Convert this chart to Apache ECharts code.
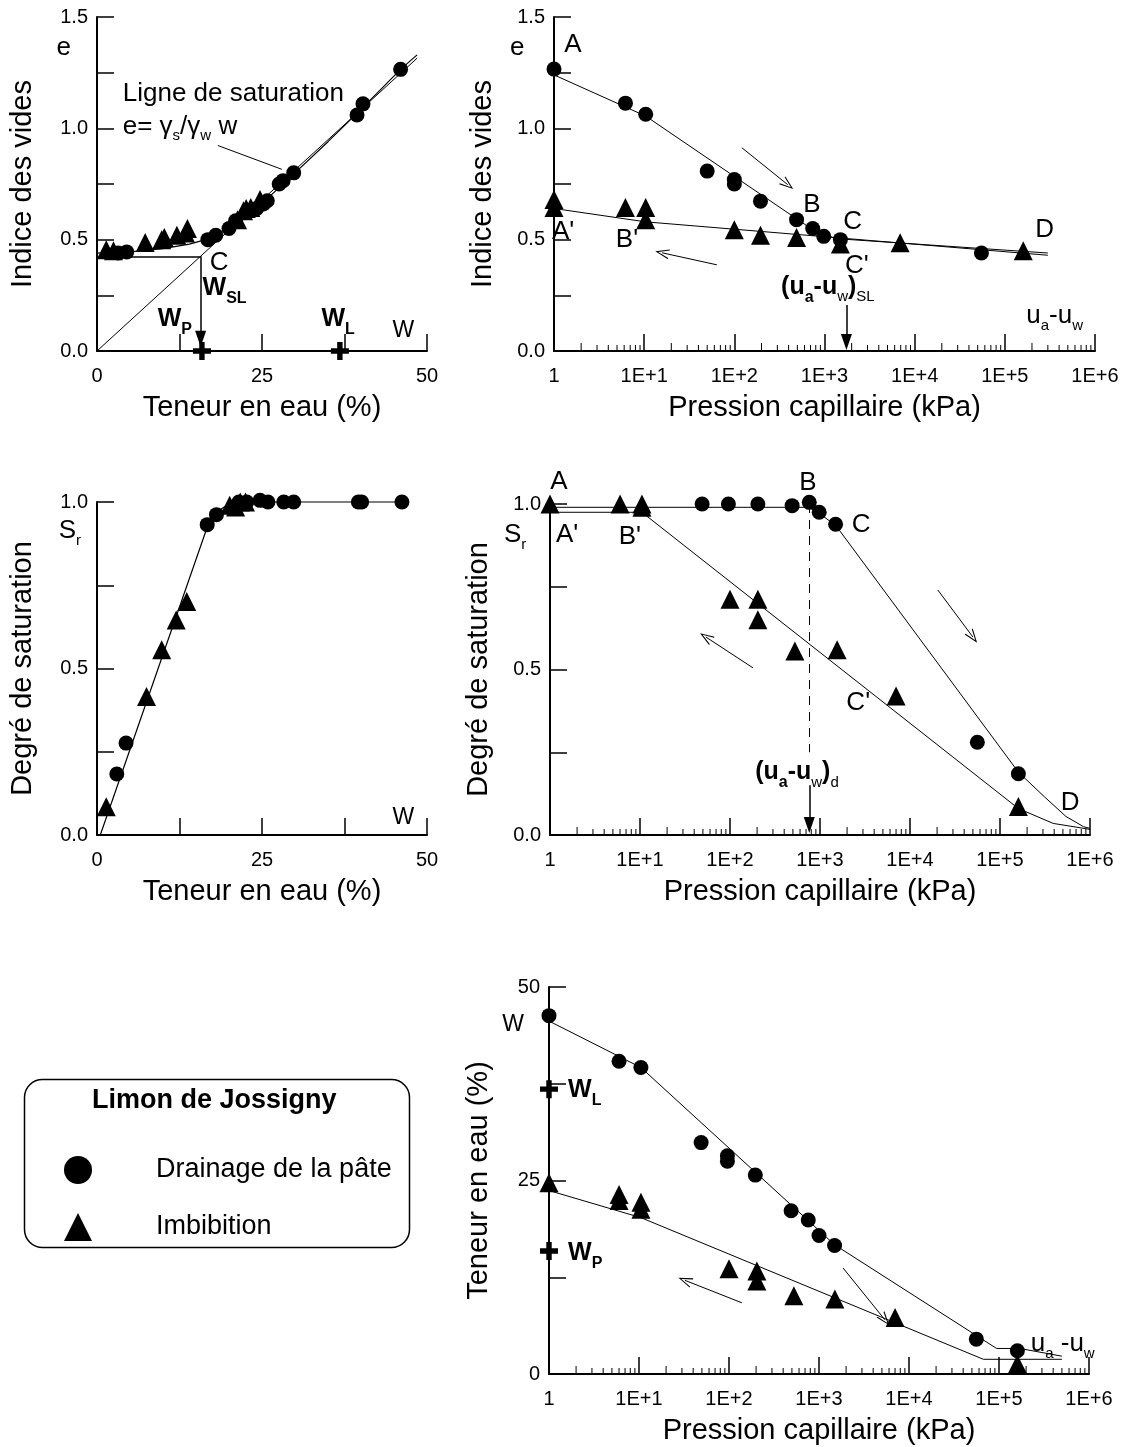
<!DOCTYPE html>
<html><head><meta charset="utf-8">
<script src="https://cdn.jsdelivr.net/npm/echarts@6/dist/echarts.min.js"></script>
<style>html,body{margin:0;padding:0;background:#fff}#c{width:1127px;height:1447px}</style>
</head><body><div id="c"></div>
<script>
// ================= DATA =================
// Tick labels
const logTickLabels = ['1','1E+1','1E+2','1E+3','1E+4','1E+5','1E+6'];
const wTickLabels = ['0','25','50'];
const eTickLabels = ['0.0','0.5','1.0','1.5'];
const srTickLabels = ['0.0','0.5','1.0'];
const legendNames = ['Drainage de la pâte','Imbibition'];

// Panel 1 : e vs w (%)
const p1DrainW = [46.0,40.3,39.4,29.8,28.2,27.6,25.8,25.2,24.2,21.0,20.0,18.0,16.8,4.5,3.2];
const p1DrainE = [1.265,1.11,1.06,0.80,0.765,0.75,0.675,0.66,0.64,0.585,0.55,0.52,0.50,0.445,0.44];
const p1ImbW = [1.4,2.5,7.3,9.8,10.2,12.1,13.4,13.7,21.3,22.2,22.6,23.3,24.7];
const p1ImbE = [0.455,0.45,0.487,0.50,0.51,0.52,0.53,0.55,0.59,0.63,0.64,0.645,0.68];
const p1SatW = [0,48.5];
const p1SatE = [0,1.315];
const p1CurveW = [0,5,10,14,17,20,23,26,30,35,40,46,48.5];
const p1CurveE = [0.44,0.445,0.46,0.48,0.505,0.55,0.615,0.69,0.80,0.94,1.085,1.265,1.33];
const wSL = 15.7, eSL = 0.425;
const wP = 15.9, wL = 36.8;

// Panel 2 : e vs suction (kPa)
const p2DrainS = [1,6.2,10.4,50,100,100,195,490,740,980,1500,55000];
const p2DrainE = [1.266,1.113,1.063,0.808,0.77,0.75,0.673,0.59,0.55,0.515,0.50,0.44];
const p2ImbS = [1,1,6.2,10.4,10.4,100,195,490,1500,6900,160000];
const p2ImbE = [0.68,0.644,0.644,0.644,0.59,0.545,0.52,0.51,0.48,0.486,0.45];
const p2DrainLineS = [1,10.4,650,1300,300000];
const p2DrainLineE = [1.24,1.055,0.56,0.505,0.44];
const p2ImbLineS = [1,10.4,300000];
const p2ImbLineE = [0.64,0.58,0.43];
const sSL = 1750;

// Panel 3 : Sr vs w (%)
const p3DrainW = [46.2,40.1,39.6,29.8,28.3,25.9,24.7,22.7,21.5,18.1,16.7,4.4,3.0];
const p3DrainSr = [1,1,1,1,1,1,1.005,1,1,0.962,0.932,0.276,0.183];
const p3ImbW = [1.4,7.5,9.8,12.0,13.6,20.1,21.0,21.7,22.5];
const p3ImbSr = [0.085,0.416,0.556,0.646,0.701,0.99,0.985,1.0,1.0];
const p3LineW = [0.5,16.8,18.5,20.5,46.2];
const p3LineSr = [0,0.93,0.975,1.0,1.0];

// Panel 4 : Sr vs suction (kPa)
const p4DrainS = [49,96,204,490,760,980,1490,56000,160000];
const p4DrainSr = [1.0,1.0,1.0,0.995,1.005,0.975,0.939,0.28,0.185];
const p4ImbS = [1,6,10.5,10.5,100,204,204,526,1550,7000,160000];
const p4ImbSr = [1.0,1.0,1.0,0.99,0.712,0.712,0.65,0.556,0.56,0.42,0.086];
const p4DrainLineS = [1,760,1000,1500,160000,310000,540000,850000,1000000];
const p4DrainLineSr = [0.99,0.99,0.97,0.935,0.19,0.116,0.056,0.025,0.02];
const p4ImbLineS = [1,10.5,160000,390000,1000000];
const p4ImbLineSr = [0.975,0.975,0.08,0.035,0.017];
const sD = 760;

// Panel 5 : w (%) vs suction (kPa)
const p5DrainS = [1,6,10.5,49,96,96,196,490,760,1000,1490,56000,160000];
const p5DrainW = [46.3,40.4,39.6,29.9,28.2,27.5,25.7,21.1,19.9,17.9,16.6,4.5,3.0];
const p5ImbS = [1,6,6,10.5,10.5,100,204,204,526,1500,7000,160000];
const p5ImbW = [24.7,23.2,22.4,22.2,21.3,13.6,13.3,12.0,10.1,9.7,7.3,1.3];
const p5DrainLineS = [1,10.5,1490,94000,170000,500000];
const p5DrainLineW = [45.6,39.6,16.7,3.3,3.3,2.3];
const p5ImbLineS = [1,10.5,67000,500000];
const p5ImbLineW = [23.7,20.2,1.9,1.9];

// ================= CHART =================
const FONT = "'Liberation Sans', Arial, sans-serif";
const zip = (a, b) => a.map((v, i) => [v, b[i]]);
const fmtLog = v => logTickLabels[Math.round(Math.log10(v))];
const fmtStep = (labels, step) => v => {
  const i = v / step;
  return Math.abs(i - Math.round(i)) < 1e-6 ? (labels[Math.round(i)] || '') : '';
};
const TICK_FS = 20, NAME_FS = 29;

const grids = [
  {left: 97, top: 17, width: 330, height: 334},
  {left: 554, top: 17, width: 541, height: 334},
  {left: 97, top: 502, width: 330, height: 333},
  {left: 550, top: 504, width: 540, height: 331},
  {left: 549, top: 987, width: 540, height: 387}
].map(g => Object.assign({containLabel: false, outerBoundsMode: 'none'}, g));

function axisBase(gi, extra) {
  return Object.assign({
    gridIndex: gi,
    axisLine: {show: true, onZero: false, lineStyle: {color: '#000', width: 2}},
    axisTick: {show: true, inside: true, length: 17, lineStyle: {color: '#000', width: 1.5}},
    splitLine: {show: false},
    minorTick: {show: false},
    nameLocation: 'middle',
    nameTextStyle: {color: '#000', fontSize: NAME_FS, fontFamily: FONT}
  }, extra);
}
function lbl(margin, formatter) {
  return {color: '#000', fontSize: TICK_FS, fontFamily: FONT, margin, formatter, showMinLabel: true, showMaxLabel: true};
}
function linX(gi, name) {
  return axisBase(gi, {type: 'value', min: 0, max: 50, interval: 12.5, name, nameGap: 42,
    axisLabel: lbl(15, fmtStep(wTickLabels, 25))});
}
function logX(gi, name) {
  return axisBase(gi, {type: 'log', logBase: 10, min: 1, max: 1e6, name, nameGap: 42,
    axisLabel: lbl(15, fmtLog)});
}
function yAx(gi, min, max, interval, labels, step, name, gap) {
  return axisBase(gi, {type: 'value', min, max, interval, name, nameGap: gap,
    axisLabel: lbl(9, fmtStep(labels, step))});
}

const xAxis = [
  linX(0, 'Teneur en eau (%)'),
  logX(1, 'Pression capillaire (kPa)'),
  linX(2, 'Teneur en eau (%)'),
  logX(3, 'Pression capillaire (kPa)'),
  logX(4, 'Pression capillaire (kPa)')
];
const yAxis = [
  yAx(0, 0, 1.5, 0.25, eTickLabels, 0.5, 'Indice des vides', 60),
  yAx(1, 0, 1.5, 0.25, eTickLabels, 0.5, 'Indice des vides', 57),
  yAx(2, 0, 1.0, 0.25, srTickLabels, 0.5, 'Degré de saturation', 60),
  yAx(3, 0, 1.0, 0.25, srTickLabels, 0.5, 'Degré de saturation', 57),
  yAx(4, 0, 50, 12.5, wTickLabels, 25, 'Teneur en eau (%)', 56)
];

const RICH = {
  n: {fontSize: 26, fontFamily: FONT, color: '#000', verticalAlign: 'top'},
  m: {fontSize: 23, fontFamily: FONT, color: '#000', verticalAlign: 'top'},
  s: {fontSize: 15, fontFamily: FONT, color: '#000', padding: [15, 0, 0, 0], verticalAlign: 'top'},
  b: {fontSize: 25, fontFamily: FONT, color: '#000', fontWeight: 'bold', verticalAlign: 'top'},
  bs: {fontSize: 16, fontFamily: FONT, color: '#000', fontWeight: 'bold', padding: [15, 0, 0, 0], verticalAlign: 'top'}
};

const OPEN = 'path://M0,14 L5,0 L10,14 L8.8,14 L5,3 L1.2,14 Z';
const FILL = 'path://M5,0 L10,16 L0,16 Z';
const PLUS = 'path://M3.5,0 H6.5 V3.5 H10 V6.5 H6.5 V10 H3.5 V6.5 H0 V3.5 H3.5 Z';

function seg(a, b, opt) {
  opt = opt || {};
  return [
    {coord: a, symbol: 'none'},
    {coord: b, symbol: opt.head || 'none', symbolSize: opt.size || [10, 14],
     lineStyle: {color: '#000', width: opt.w || 1, type: opt.dash ? [9, 7] : 'solid', opacity: 1}}
  ];
}

function annotations(gi, items, lines) {
  return {
    type: 'scatter', name: 'ann' + gi, xAxisIndex: gi, yAxisIndex: gi,
    symbolSize: 0, silent: true, clip: false, z: 6,
    itemStyle: {opacity: 1, color: '#000'},
    data: items.map(a => ({
      value: [a.x, a.y],
      label: {show: true, position: [0, 0], formatter: a.t, align: a.align || 'center',
        verticalAlign: 'middle', rich: RICH, color: '#000', opacity: 1}
    })),
    markLine: {
      silent: true, animation: false, symbol: ['none', 'none'],
      label: {show: false}, lineStyle: {color: '#000', width: 1, type: 'solid', opacity: 1},
      itemStyle: {color: '#000', opacity: 1},
      emphasis: {disabled: true},
      data: lines || []
    }
  };
}

function pts(gi, name, data, symbol, size) {
  return {type: 'scatter', name, xAxisIndex: gi, yAxisIndex: gi, data, symbol, symbolSize: size,
    itemStyle: {color: '#000', opacity: 1}, clip: false, z: 5, silent: true};
}
function curve(gi, name, data, width) {
  return {type: 'line', name, xAxisIndex: gi, yAxisIndex: gi, data, showSymbol: false, symbol: 'none',
    lineStyle: {color: '#000', width: width || 1, opacity: 1}, clip: false, z: 4, silent: true};
}
function minorTicks(gi) {
  const vals = [];
  for (let d = 0; d < 6; d++) for (let k = 2; k <= 9; k++) vals.push([k * Math.pow(10, d), 0]);
  return {type: 'custom', name: 'minor' + gi, xAxisIndex: gi, yAxisIndex: gi, data: vals, silent: true, clip: false, z: 3,
    renderItem: (p, api) => {
      const v = api.value(0);
      const k = Math.round(v / Math.pow(10, Math.floor(Math.log10(v) + 1e-9)));
      const pt = api.coord([v, api.value(1)]);
      const len = k === 2 ? 8 : 6;
      return {type: 'line', shape: {x1: pt[0], y1: pt[1], x2: pt[0], y2: pt[1] - len},
        style: {stroke: '#000', lineWidth: 1}};
    }};
}

const CIRC = 15, TRI = 19;
const series = [
  // Panel 1
  curve(0, 'sat', zip(p1SatW, p1SatE), 1),
  curve(0, 'c1', zip(p1CurveW, p1CurveE), 1.2),
  pts(0, legendNames[1], zip(p1ImbW, p1ImbE), 'triangle', TRI),
  pts(0, legendNames[0], zip(p1DrainW, p1DrainE), 'circle', CIRC),
  pts(0, 'limits1', [[wP, 0], [wL, 0]], PLUS, 18),
  annotations(0, [
    {t: '{n|e}', x: -5.05, y: 1.36},
    {t: '{n|Ligne de saturation}', x: 3.9, y: 1.156, align: 'left'},
    {t: '{n|e= γ}{s|s}{n|/γ}{s|w}{n| w}', x: 3.9, y: 1.0, align: 'left'},
    {t: '{n|C}', x: 17.1, y: 0.398, align: 'left'},
    {t: '{b|W}{bs|SL}', x: 16.0, y: 0.27, align: 'left'},
    {t: '{b|W}{bs|P}', x: 9.2, y: 0.13, align: 'left'},
    {t: '{b|W}{bs|L}', x: 34.0, y: 0.13, align: 'left'},
    {t: '{m|W}', x: 46.4, y: 0.093}
  ], [
    seg([0, eSL], [wSL, eSL], {w: 1.5}),
    seg([wSL, eSL], [wSL, 0.055], {w: 1.5, head: FILL, size: [11, 16]}),
    seg([18.3, 0.923], [28.0, 0.816])
  ]),
  // Panel 2
  curve(1, 'd2', zip(p2DrainLineS, p2DrainLineE)),
  curve(1, 'i2', zip(p2ImbLineS, p2ImbLineE)),
  pts(1, legendNames[1], zip(p2ImbS, p2ImbE), 'triangle', TRI),
  pts(1, legendNames[0], zip(p2DrainS, p2DrainE), 'circle', CIRC),
  minorTicks(1),
  annotations(1, [
    {t: '{n|e}', x: 0.39, y: 1.363},
    {t: '{n|A}', x: 1.62, y: 1.376},
    {t: "{n|A'}", x: 1.26, y: 0.535},
    {t: "{n|B'}", x: 6.45, y: 0.499},
    {t: '{n|B}', x: 725, y: 0.657},
    {t: '{n|C}', x: 2050, y: 0.58},
    {t: "{n|C'}", x: 2290, y: 0.382},
    {t: '{n|D}', x: 277000, y: 0.544},
    {t: '{b|(u}{bs|a}{b|-u}{s|w}{b|)}{s|SL}', x: 1090, y: 0.274},
    {t: '{n|u}{s|a}{n|-u}{s|w}', x: 357000, y: 0.148}
  ], [
    seg([121, 0.913], [391, 0.747], {head: OPEN}),
    seg([64, 0.387], [15.8, 0.441], {head: OPEN}),
    seg([sSL, 0.207], [sSL, 0.04], {w: 1.5, head: FILL, size: [11, 16]})
  ]),
  // Panel 3
  curve(2, 'l3', zip(p3LineW, p3LineSr), 1.2),
  pts(2, legendNames[1], zip(p3ImbW, p3ImbSr), 'triangle', TRI),
  pts(2, legendNames[0], zip(p3DrainW, p3DrainSr), 'circle', CIRC),
  annotations(2, [
    {t: '{n|S}{s|r}', x: -4.1, y: 0.907},
    {t: '{m|W}', x: 46.4, y: 0.051}
  ]),
  // Panel 4
  curve(3, 'd4', zip(p4DrainLineS, p4DrainLineSr)),
  curve(3, 'i4', zip(p4ImbLineS, p4ImbLineSr)),
  pts(3, legendNames[1], zip(p4ImbS, p4ImbSr), 'triangle', TRI),
  pts(3, legendNames[0], zip(p4DrainS, p4DrainSr), 'circle', CIRC),
  minorTicks(3),
  annotations(3, [
    {t: '{n|S}{s|r}', x: 0.41, y: 0.9},
    {t: '{n|A}', x: 1.26, y: 1.066},
    {t: "{n|A'}", x: 1.55, y: 0.906},
    {t: "{n|B'}", x: 7.7, y: 0.9},
    {t: '{n|B}', x: 736, y: 1.063},
    {t: '{n|C}', x: 2860, y: 0.937},
    {t: "{n|C'}", x: 2660, y: 0.399},
    {t: '{n|D}', x: 600000, y: 0.097},
    {t: '{b|(u}{bs|a}{b|-u}{s|w}{b|)}{s|d}', x: 555, y: 0.18}
  ], [
    seg([sD, 1.0], [sD, 0.25], {dash: true}),
    seg([sD, 0.15], [sD, 0.03], {w: 1.5, head: FILL, size: [11, 16]}),
    seg([20400, 0.74], [50000, 0.598], {head: OPEN}),
    seg([180, 0.505], [54, 0.598], {head: OPEN})
  ]),
  // Panel 5
  curve(4, 'd5', zip(p5DrainLineS, p5DrainLineW)),
  curve(4, 'i5', zip(p5ImbLineS, p5ImbLineW)),
  pts(4, legendNames[1], zip(p5ImbS, p5ImbW), 'triangle', TRI),
  pts(4, legendNames[0], zip(p5DrainS, p5DrainW), 'circle', CIRC),
  pts(4, 'limits5', [[1, wL], [1, wP]], PLUS, 18),
  minorTicks(4),
  annotations(4, [
    {t: '{m|W}', x: 0.4, y: 45.1},
    {t: '{b|W}{bs|L}', x: 1.63, y: 36.3, align: 'left'},
    {t: '{b|W}{bs|P}', x: 1.63, y: 15.2, align: 'left'},
    {t: '{n|u}{s|a}{n| -u}{s|w}', x: 510000, y: 3.6}
  ], [
    seg([1850, 13.7], [5400, 7.0], {head: OPEN}),
    seg([139, 9.2], [32.4, 12.1], {head: OPEN})
  ])
];

const chart = echarts.init(document.getElementById('c'), null, {renderer: 'canvas'});
chart.setOption({
  animation: false,
  backgroundColor: '#fff',
  grid: grids,
  xAxis, yAxis, series,
  legend: {
    show: true, orient: 'vertical', left: 59, top: 1151, itemWidth: 28, itemHeight: 28, itemGap: 29,
    selectedMode: false,
    itemStyle: {color: '#000', opacity: 1},
    textStyle: {color: '#000', fontSize: 27, fontFamily: FONT, padding: [0, 0, 0, 59]},
    data: [{name: legendNames[0], icon: 'circle'}, {name: legendNames[1], icon: 'triangle'}]
  },
  graphic: [
    {type: 'rect', left: 22, top: 1077, shape: {width: 385, height: 168, r: 18},
     style: {fill: 'none', stroke: '#000', lineWidth: 1.5}, z: 1},
    {type: 'text', left: 92, top: 1087,
     style: {text: 'Limon de Jossigny', fontSize: 27, fontWeight: 'bold', fontFamily: FONT, fill: '#000'}}
  ]
});
</script></body></html>
